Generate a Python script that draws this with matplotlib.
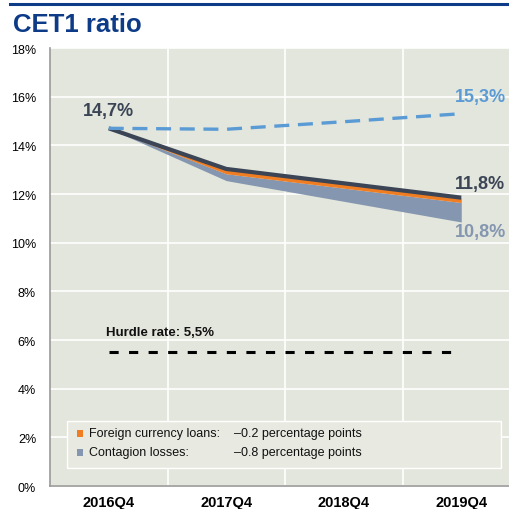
import numpy as np
import matplotlib.pyplot as plt
from matplotlib.patches import Rectangle
from matplotlib.lines import Line2D

plt.rcParams['font.family'] = ['Liberation Sans', 'DejaVu Sans']

# data
quarters = ['2016Q4', '2017Q4', '2018Q4', '2019Q4']
baseline = [14.7, 13.03, 12.44, 11.85]
after_fx = [14.7, 12.83, 12.24, 11.65]
after_contagion = [14.7, 12.55, 11.7, 10.85]
upside = [14.7, 14.66, 14.97, 15.3]
hurdle = [5.5, 5.5, 5.5, 5.5]
yticks = [0, 2, 4, 6, 8, 10, 12, 14, 16, 18]
legend_names = ['Foreign currency loans:', 'Contagion losses:']
legend_values = ['\u20130.2 percentage points', '\u20130.8 percentage points']

# colours
c_title = '#0d3b87'
c_bg = '#e3e6dc'
c_dark = '#3b4556'
c_orange = '#f07d22'
c_grey = '#8596b0'
c_blue = '#5b9bd5'

fig = plt.figure(figsize=(5.09, 5.10), dpi=100)
fig.patch.set_facecolor('white')

# header rule + title
fig.add_artist(Line2D([10/509, 1], [1-4.5/510, 1-4.5/510], color=c_title, lw=2.2))
fig.text(13/509, 1-25/510, 'CET1 ratio', fontsize=18.5, fontweight='bold',
         color=c_title, va='center', ha='left')

ax = fig.add_axes([50/509, 1-487/510, 470/509, 438/510])
ax.set_facecolor(c_bg)
x = np.arange(len(quarters))

ax.fill_between(x, after_contagion, after_fx, color=c_grey, lw=0, zorder=3)
ax.fill_between(x, after_fx, baseline, color=c_orange, lw=0, zorder=3)
ax.plot(x, baseline, color=c_dark, lw=3.0, zorder=4, solid_capstyle='butt')
ax.plot(x, upside, color=c_blue, lw=2.4, dashes=(4.5, 2.6), zorder=4)
ax.plot(x, hurdle, color='black', lw=2.2, dashes=(3.0, 3.4),
        dash_capstyle='butt', zorder=4)

# value labels
lab = dict(fontsize=13, fontweight='bold', zorder=5)
ax.text(x[0], baseline[0] + 0.75, '14,7%', color=c_dark, ha='center', va='center', **lab)
ax.text(x[-1] - 0.05, upside[-1] + 0.7, '15,3%', color=c_blue, ha='left', va='center', **lab)
ax.text(x[-1] - 0.05, baseline[-1] + 0.6, '11,8%', color=c_dark, ha='left', va='center', **lab)
ax.text(x[-1] - 0.05, after_contagion[-1] - 0.05, '10,8%', color=c_grey, ha='left', va='top', **lab)
ax.text(x[0] - 0.02, hurdle[0] + 0.6, 'Hurdle rate: 5,5%', fontsize=9.5,
        fontweight='bold', color='#111111', ha='left', va='bottom')

# axes styling
ax.set_xlim(-0.5, 3.5)
ax.set_ylim(0, 18)
ax.set_yticks(yticks)
ax.set_yticklabels([f'{v}%' for v in yticks], fontsize=9)
ax.set_xticks(x)
ax.set_xticklabels(quarters, fontsize=10.5, fontweight='bold')
ax.set_xticks([0.5, 1.5, 2.5], minor=True)
ax.tick_params(axis='both', which='both', length=0)
ax.tick_params(axis='x', pad=6.5)
ax.tick_params(axis='y', pad=10)
ax.grid(axis='y', which='major', color='white', lw=1.2, zorder=1)
ax.grid(axis='x', which='minor', color='white', lw=1.2, zorder=1)
ax.set_axisbelow(True)
for s in ['top', 'right']:
    ax.spines[s].set_visible(False)
for s in ['left', 'bottom']:
    ax.spines[s].set_color('#9a9a9a')
    ax.spines[s].set_linewidth(1.2)

# legend box
ax.add_patch(Rectangle((0.036, 0.041), 0.924, 0.107, transform=ax.transAxes,
                       facecolor='#e8eae2', edgecolor='white', lw=1.0, zorder=5))
for i, (name, val, col) in enumerate(zip(legend_names, legend_values, [c_orange, c_grey])):
    yy = 0.121 - i * 0.043
    ax.add_patch(Rectangle((0.058, yy - 0.009), 0.013, 0.015, transform=ax.transAxes,
                           facecolor=col, lw=0, zorder=6))
    ax.text(0.083, yy, name, transform=ax.transAxes, fontsize=9, va='center',
            ha='left', color='#111111', zorder=6)
    ax.text(0.391, yy, val, transform=ax.transAxes, fontsize=9, va='center',
            ha='left', color='#111111', zorder=6)

fig.savefig('out.png', dpi=100)
